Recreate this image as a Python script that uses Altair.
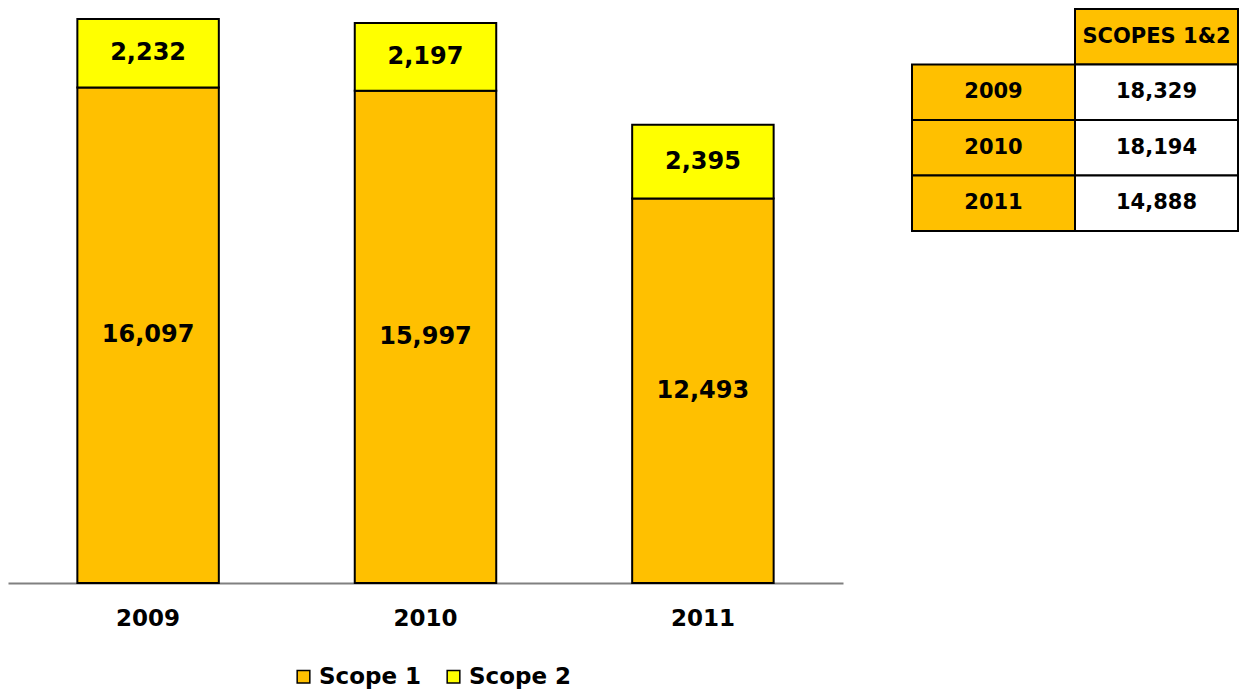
import altair as alt
import pandas as pd

years = ["2009", "2010", "2011"]
scope1 = [16097, 15997, 12493]
scope2 = [2232, 2197, 2395]
totals = [18329, 18194, 14888]
scopes = ["Scope 1", "Scope 2"]
colors = ["#FFC000", "#FFFF00"]
table_header = "SCOPES 1&2"

FONT = "DejaVu Sans"

rows = []
for i, y in enumerate(years):
    rows.append({"year": y, "scope": "Scope 1", "value": scope1[i], "order": 0})
    rows.append({"year": y, "scope": "Scope 2", "value": scope2[i], "order": 1})
df = pd.DataFrame(rows)

base = alt.Chart(df).transform_window(
    cum="sum(value)", groupby=["year"], sort=[alt.SortField("order")]
).transform_calculate(
    mid="datum.cum - datum.value / 2",
    lbl="format(datum.value, ',')",
)

x_enc = alt.X(
    "year:N",
    title=None,
    scale=alt.Scale(paddingInner=0.49, paddingOuter=0.25),
    axis=alt.Axis(
        labelAngle=0,
        labelFont=FONT,
        labelFontSize=23,
        labelFontWeight="bold",
        labelColor="black",
        labelPadding=24,
        ticks=False,
        domainColor="#808080",
        domainWidth=2,
        grid=False,
    ),
)

yscale = alt.Scale(domain=[0, 18650])

bars = base.mark_bar(stroke="black", strokeWidth=2).encode(
    x=x_enc,
    y=alt.Y("value:Q", stack="zero", scale=yscale, axis=None),
    color=alt.Color(
        "scope:N",
        scale=alt.Scale(domain=scopes, range=colors),
        legend=alt.Legend(
            title=None,
            orient="none",
            legendX=284,
            legendY=656,
            direction="horizontal",
            symbolType="square",
            symbolSize=160,
            symbolStrokeColor="black",
            symbolStrokeWidth=1.5,
            labelFont=FONT,
            labelFontSize=23,
            labelFontWeight="bold",
            labelColor="black",
            labelOffset=4,
            columnPadding=20,
            padding=0,
        ),
    ),
    order=alt.Order("order:Q"),
)

labels = base.mark_text(
    font=FONT, fontSize=24, fontWeight="bold", color="black", baseline="middle"
).encode(
    x=alt.X("year:N"),
    y=alt.Y("mid:Q", scale=yscale),
    text="lbl:N",
)

bar_chart = alt.layer(bars, labels).properties(width=835, height=574)

# Table
trows = ["hdr"] + years
cells = [{"col": "B", "row": "hdr", "txt": table_header, "fill": "#FFC000"}]
for i, y in enumerate(years):
    cells.append({"col": "A", "row": y, "txt": y, "fill": "#FFC000"})
    cells.append({"col": "B", "row": y, "txt": format(totals[i], ","), "fill": "#FFFFFF"})
tdf = pd.DataFrame(cells)

tx = alt.X("col:N", scale=alt.Scale(domain=["A", "B"], paddingInner=0, paddingOuter=0), axis=None)
ty = alt.Y("row:N", scale=alt.Scale(domain=trows, paddingInner=0, paddingOuter=0), axis=None)

tbase = alt.Chart(tdf)
trect = tbase.mark_rect(stroke="black", strokeWidth=2).encode(
    x=tx, y=ty, fill=alt.Fill("fill:N", scale=None)
)
ttext = tbase.mark_text(
    font=FONT, fontSize=21, fontWeight="bold", color="black", baseline="middle"
).encode(x=tx, y=ty, text="txt:N")

table = alt.layer(trect, ttext).properties(width=326, height=222)

chart = alt.hconcat(bar_chart, table, spacing=68).properties(padding=0).configure_view(
    stroke=None
)

chart.save("out.html", embed_options={"renderer": "svg", "actions": False})
